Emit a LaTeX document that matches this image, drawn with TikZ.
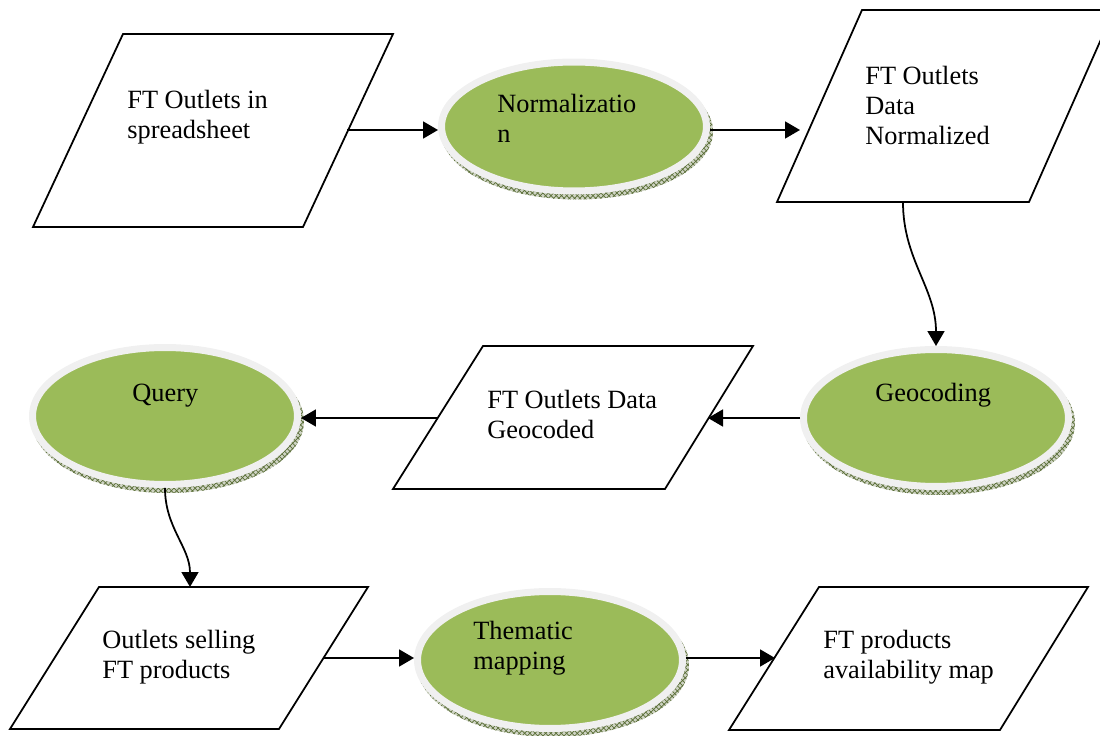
\documentclass[tikz,border=0pt]{standalone}
\usepackage{fontspec}
\setmainfont{Liberation Serif}
\usetikzlibrary{shapes.geometric,arrows.meta,patterns,backgrounds}
\definecolor{procgreen}{RGB}{155,187,89}
\definecolor{rimgray}{RGB}{240,240,240}
\definecolor{hatchgreen}{RGB}{90,110,55}
\begin{document}
\begin{tikzpicture}[x=0.02cm,y=-0.02cm,
    io/.style={draw,line width=1pt,line join=miter},
    proc/.style={ellipse,draw=rimgray,line width=0.14cm,fill=procgreen,inner sep=0pt,
      minimum width=5.3cm,minimum height=2.74cm},
    txt/.style={anchor=base west,align=left,inner sep=0pt,font=\fontsize{15}{17.2}\selectfont},
    flow/.style={-{Triangle[length=0.3cm,width=0.34cm]},line width=1pt}]
  \useasboundingbox (0,0) rectangle (1100,736);

  % data (parallelograms)
  \draw[io] (123,34) -- (393,34) -- (303,227) -- (33,227) -- cycle;
  \draw[io] (862,10) -- (1114,10) -- (1029,202) -- (777,202) -- cycle;
  \draw[io] (483,346) -- (753,346) -- (665,489) -- (393,489) -- cycle;
  \draw[io] (99,587) -- (368,587) -- (279,729) -- (10,729) -- cycle;
  \draw[io] (819,587) -- (1088,587) -- (1000,730) -- (729,730) -- cycle;
  \coordinate (sheet-out) at (347,130);
  \coordinate (pnorm-in) at (800,130);
  \coordinate (pnorm-out) at (903,202);
  \coordinate (pgeo-in) at (708,418);
  \coordinate (pgeo-out) at (438,418);
  \coordinate (pout-in) at (190,587);
  \coordinate (pout-out) at (324,658);
  \coordinate (pmap-in) at (775,658);

  % processes (ellipses)
  \node[proc,minimum height=2.58cm] (norm) at (574,126.5) {};
  \node[proc] (geo) at (936,418) {};
  \node[proc] (query) at (165,416) {};
  \node[proc] (thm) at (550,660) {};

  \begin{scope}[on background layer]
    \foreach \n/\ry in {norm/1.36,geo/1.44,query/1.44,thm/1.44}{
      \fill[hatchgreen!30] ([shift={(3,5)}]\n.center) ellipse [x radius=2.72cm,y radius=\ry cm];
      \fill[pattern=crosshatch,pattern color=hatchgreen] ([shift={(3,5)}]\n.center)
        ellipse [x radius=2.72cm,y radius=\ry cm];
    }
  \end{scope}

  % labels (base = last line)
  \node[txt] (sheettxt) at (127,139) {FT Outlets in\\spreadsheet};
  \node[txt] (pnormtxt) at (865,145) {FT Outlets\\Data\\Normalized};
  \node[txt] (pgeotxt) at (487,439) {FT Outlets Data\\Geocoded};
  \node[txt] (pouttxt) at (102,679) {Outlets selling\\FT products};
  \node[txt] (pmaptxt) at (823,679) {FT products\\availability map};
  \node[txt] (normtxt) at (497,143) {Normalizatio\\n};
  \node[txt] (geotxt) at (875,402) {Geocoding};
  \node[txt] (querytxt) at (132,402) {Query};
  \node[txt] (thmtxt) at (473,670) {Thematic\\mapping};

  % flow
  \draw[flow] (sheet-out) -- (sheet-out -| norm.west);
  \draw[flow] (norm.east |- pnorm-in) -- (pnorm-in);
  \draw[flow] (pnorm-out) to[out=-90,in=90] (geo.north);
  \draw[flow] (geo.west |- pgeo-in) -- (pgeo-in);
  \draw[flow] (pgeo-out) -- (pgeo-out -| query.east);
  \draw[flow] (query.south) to[out=-90,in=90] (pout-in);
  \draw[flow] (pout-out) -- (pout-out -| thm.west);
  \draw[flow] (thm.east |- pmap-in) -- (pmap-in);
\end{tikzpicture}
\end{document}
